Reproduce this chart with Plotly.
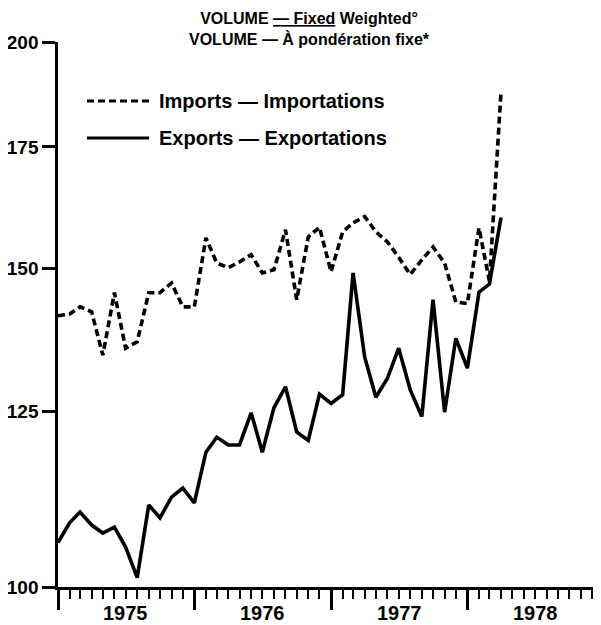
import pandas as pd
import plotly.graph_objects as go

# Monthly data, January 1975 - April 1978 (index, volume, fixed weighted; log scale)
start_month = "1975-01-01"
n_months = 40
imports = [141.2, 141.5, 142.8, 141.9, 134.3, 145.4, 135.5, 136.6, 145.4, 145.4,
           147.2, 142.8, 142.8, 155.9, 151.0, 150.1, 151.2, 152.6, 149.1, 149.7,
           157.5, 144.1, 156.1, 158.0, 149.3, 157.1, 158.9, 160.2, 157.1, 155.1,
           152.1, 148.8, 151.6, 154.1, 151.0, 143.7, 143.4, 157.9, 147.5, 187.7]
exports = [105.8, 108.5, 110.0, 108.2, 107.1, 107.9, 105.2, 101.2, 111.0, 109.2,
           112.1, 113.4, 111.3, 118.7, 121.0, 119.8, 119.8, 124.8, 118.7, 125.6,
           129.0, 121.8, 120.5, 127.8, 126.3, 127.7, 149.1, 134.0, 127.3, 130.4,
           135.5, 128.5, 124.2, 144.1, 124.9, 137.2, 132.1, 145.5, 147.0, 160.0]
y_ticks = [100, 125, 150, 175, 200]
years = [1975, 1976, 1977, 1978]
x_range = ["1975-01-01", "1978-12-22"]
legend_labels = ["Imports — Importations", "Exports — Exportations"]
title_lines = ["VOLUME <u>— Fixed</u> Weighted°", "VOLUME — À pondération fixe*"]

months = pd.date_range(start_month, periods=n_months, freq="MS")

FONT = "Liberation Sans, Arial, sans-serif"
BLACK = "#000000"
# the page body adds an 8px offset; figure is sized to fit the remaining window
W, H = 593, 617
L, R, T, B = 50, 1, 34, 38
PW, PH = W - L - R, H - T - B


def px_x(x):
    return (x - L) / PW


def px_y(y):
    return 1 - (y - T) / PH


fig = go.Figure()
fig.add_trace(go.Scatter(x=months, y=imports, mode="lines", name=legend_labels[0],
                         line=dict(color=BLACK, width=3.6, dash="7px,4px"),
                         showlegend=False))
fig.add_trace(go.Scatter(x=months, y=exports, mode="lines", name=legend_labels[1],
                         line=dict(color=BLACK, width=3.6),
                         showlegend=False))

# manual legend
legend_rows = [(93, "7px,4px", legend_labels[0]), (130, None, legend_labels[1])]
for ypx, dash, label in legend_rows:
    fig.add_shape(type="line", xref="paper", yref="paper",
                  x0=px_x(79), x1=px_x(141), y0=px_y(ypx), y1=px_y(ypx),
                  line=dict(color=BLACK, width=3, dash=dash))
    fig.add_annotation(text="<b>" + label + "</b>", xref="paper", yref="paper",
                       x=px_x(149), y=px_y(ypx), xanchor="left", yanchor="middle",
                       showarrow=False, font=dict(family=FONT, size=20, color=BLACK))

# title
fig.add_annotation(text="<b>" + "<br>".join(title_lines) + "</b>",
                   xref="paper", yref="paper", x=px_x(301), y=px_y(21),
                   xanchor="center", yanchor="middle", showarrow=False, align="center",
                   font=dict(family=FONT, size=16, color=BLACK))

# year labels centred in each calendar year
for yr in years:
    fig.add_annotation(text="<b>%d</b>" % yr, xref="x", yref="paper",
                       x="%d-07-02" % yr, y=px_y(605), xanchor="center", yanchor="middle",
                       showarrow=False, font=dict(family=FONT, size=20, color=BLACK))

fig.update_xaxes(type="date", range=x_range, showline=True, linecolor=BLACK, linewidth=2.5,
                 ticks="outside", tick0="1975-01-01", dtick="M12", ticklen=20, tickwidth=2.5,
                 tickcolor=BLACK, showticklabels=False,
                 minor=dict(dtick="M1", ticks="outside", ticklen=9, tickwidth=2, tickcolor=BLACK,
                            showgrid=False),
                 showgrid=False, zeroline=False, automargin=False)
fig.update_yaxes(type="log", range=[2, 2.30103], showline=True, linecolor=BLACK, linewidth=2.5,
                 ticks="outside", ticklen=13, tickwidth=2.5, tickcolor=BLACK,
                 tickvals=y_ticks, ticktext=[str(v) for v in y_ticks],
                 tickfont=dict(family=FONT, size=19, color=BLACK, weight="bold"),
                 showgrid=False, zeroline=False, automargin=False)

fig.update_layout(width=W, height=H, margin=dict(l=L, r=R, t=T, b=B),
                  paper_bgcolor="white", plot_bgcolor="white",
                  font=dict(family=FONT, color=BLACK))

fig.write_html("out.html")
